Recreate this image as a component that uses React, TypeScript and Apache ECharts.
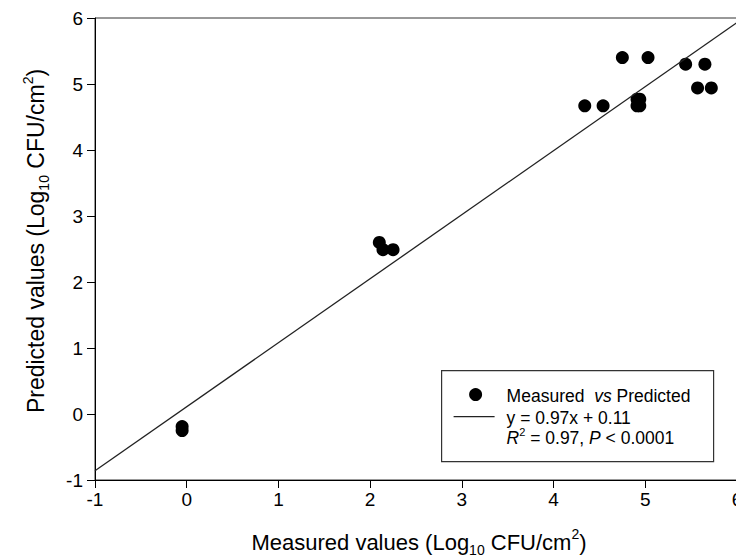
import React, { useEffect, useRef } from "react";
import * as echarts from "echarts";

const measured = [-0.05, -0.05, 2.10, 2.14, 2.25, 4.34, 4.54, 4.75, 5.03, 4.91, 4.94, 4.91, 4.94, 5.44, 5.65, 5.57, 5.72];
const predicted = [-0.19, -0.25, 2.60, 2.49, 2.49, 4.67, 4.67, 5.40, 5.40, 4.77, 4.77, 4.67, 4.67, 5.30, 5.30, 4.94, 4.94];
const fitX = [-1, 6];
const fitY = [-0.86, 5.93];
const xTicks = [-1, 0, 1, 2, 3, 4, 5, 6];
const yTicks = [-1, 0, 1, 2, 3, 4, 5, 6];
const legendLines = ["Measured ", "y = 0.97x + 0.11", "= 0.97, "];

const FONT = "'Liberation Sans', Arial, sans-serif";

export default function App() {
  const ref = useRef<HTMLDivElement>(null);
  useEffect(() => {
    if (!ref.current) return;
    const chart = echarts.init(ref.current, null, { renderer: "svg" });
    const makeRich = (fs: number) => ({
      n: { fontSize: fs, fontFamily: FONT, color: "#000", lineHeight: 30 },
      sub: { fontSize: Math.round(fs * 0.62), fontFamily: FONT, color: "#000", lineHeight: 13, verticalAlign: "bottom" },
      sup: { fontSize: Math.round(fs * 0.62), fontFamily: FONT, color: "#000", lineHeight: 13, verticalAlign: "top" },
    });
    chart.setOption({
      animation: false,
      backgroundColor: "#fff",
      grid: {
        left: 95,
        top: 18,
        width: 642,
        height: 462,
        show: true,
        borderColor: "#333",
        borderWidth: 1,
        backgroundColor: "transparent",
        outerBoundsMode: "none",
        containLabel: false,
      },
      xAxis: {
        type: "value",
        min: xTicks[0],
        max: xTicks[xTicks.length - 1],
        interval: 1,
        axisLine: { show: true, onZero: false, lineStyle: { color: "#000", width: 1 } },
        axisTick: { show: true, inside: false, length: 8, lineStyle: { color: "#000" } },
        axisLabel: { fontSize: 19, fontFamily: FONT, color: "#000", margin: 10 },
        splitLine: { show: false },
        name: "{n|Measured values (Log}{sub|10}{n| CFU/cm}{sup|2}{n|)}",
        nameLocation: "middle",
        nameGap: 47,
        nameTextStyle: { rich: makeRich(22), padding: [0, 0, 0, 6] },
      },
      yAxis: {
        type: "value",
        min: yTicks[0],
        max: yTicks[yTicks.length - 1],
        interval: 1,
        axisLine: { show: true, onZero: false, lineStyle: { color: "#000", width: 1 } },
        axisTick: { show: true, inside: false, length: 8, lineStyle: { color: "#000" } },
        axisLabel: { fontSize: 19, fontFamily: FONT, color: "#000", margin: 12 },
        splitLine: { show: false },
        name: "{n|Predicted values (Log}{sub|10}{n| CFU/cm}{sup|2}{n|)}",
        nameLocation: "middle",
        nameGap: 44,
        nameTextStyle: { rich: makeRich(23), padding: [0, 0, 0, 16] },
      },
      series: [
        {
          type: "line",
          data: fitX.map((x, i) => [x, fitY[i]]),
          symbol: "none",
          lineStyle: { color: "#222", width: 1.3 },
          silent: true,
        },
        {
          type: "scatter",
          data: measured.map((x, i) => [x, predicted[i]]),
          symbol: "circle",
          symbolSize: 13,
          itemStyle: { color: "#000", opacity: 1 },
        },
      ],
      graphic: [
        {
          type: "group",
          left: 441,
          top: 370,
          children: [
            { type: "rect", shape: { x: 0, y: 0, width: 272, height: 91 }, style: { fill: "#fff", stroke: "#333", lineWidth: 1.2 } },
            { type: "circle", shape: { cx: 34, cy: 24, r: 6.5 }, style: { fill: "#000" } },
            { type: "line", shape: { x1: 12, y1: 46, x2: 53, y2: 46 }, style: { stroke: "#222", lineWidth: 1.2 } },
            {
              type: "text", x: 65, y: 25,
              style: {
                text: "{n|" + legendLines[0] + "}{i| vs}{n| Predicted}",
                verticalAlign: "middle",
                rich: {
                  n: { fontSize: 17.5, fontFamily: FONT, fill: "#000" },
                  i: { fontSize: 17.5, fontFamily: FONT, fontStyle: "italic", fill: "#000" },
                },
              },
            },
            {
              type: "text", x: 65, y: 47,
              style: { text: legendLines[1], fontSize: 17.5, fontFamily: FONT, fill: "#000", verticalAlign: "middle" },
            },
            {
              type: "text", x: 65, y: 67,
              style: {
                text: "{i|R}{sup|2}{n| " + legendLines[2] + "}{i|P}{n| < 0.0001}",
                verticalAlign: "middle",
                rich: {
                  n: { fontSize: 17.5, fontFamily: FONT, fill: "#000", lineHeight: 22 },
                  i: { fontSize: 17.5, fontFamily: FONT, fontStyle: "italic", fill: "#000", lineHeight: 22 },
                  sup: { fontSize: 11, fontFamily: FONT, fill: "#000", lineHeight: 11, verticalAlign: "top" },
                },
              },
            },
          ],
        },
      ],
    });
    return () => chart.dispose();
  }, []);
  return (
    <div
      ref={ref}
      style={{ position: "absolute", left: 0, top: 0, width: 736, height: 560, background: "#fff" }}
    />
  );
}
